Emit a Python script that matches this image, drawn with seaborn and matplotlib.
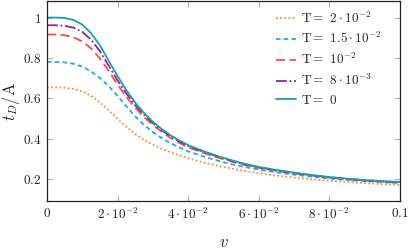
import pandas as pd
import matplotlib
matplotlib.use("Agg")
import matplotlib.pyplot as plt
import seaborn as sns

# values
v = [0, 0.0025, 0.005, 0.0075, 0.01, 0.0125, 0.015, 0.0175, 0.02, 0.0225,
     0.025, 0.0275, 0.03, 0.0325, 0.035, 0.0375, 0.04, 0.045, 0.05, 0.055,
     0.06, 0.065, 0.07, 0.075, 0.08, 0.085, 0.09, 0.095, 0.1]

t_2e2 = [0.654, 0.654, 0.652, 0.646, 0.634, 0.612, 0.58, 0.54, 0.498, 0.458,
         0.423, 0.394, 0.37, 0.35, 0.333, 0.317, 0.303, 0.279, 0.26, 0.243,
         0.229, 0.217, 0.207, 0.199, 0.192, 0.186, 0.18, 0.175, 0.171]
t_15e3 = [0.78, 0.78, 0.778, 0.771, 0.757, 0.733, 0.7, 0.66, 0.612, 0.56,
          0.51, 0.468, 0.433, 0.403, 0.378, 0.356, 0.337, 0.308, 0.283, 0.263,
          0.247, 0.233, 0.222, 0.212, 0.203, 0.196, 0.19, 0.185, 0.18]
t_1e2 = [0.916, 0.916, 0.912, 0.902, 0.882, 0.847, 0.797, 0.735, 0.668, 0.606,
         0.553, 0.507, 0.468, 0.434, 0.404, 0.379, 0.357, 0.325, 0.298, 0.274,
         0.255, 0.24, 0.228, 0.217, 0.207, 0.199, 0.192, 0.187, 0.182]
t_8e3 = [0.962, 0.962, 0.959, 0.95, 0.929, 0.89, 0.833, 0.761, 0.689, 0.623,
         0.566, 0.518, 0.477, 0.442, 0.411, 0.386, 0.363, 0.33, 0.302, 0.277,
         0.258, 0.243, 0.23, 0.219, 0.209, 0.201, 0.194, 0.189, 0.184]
t_0 = [1.0, 1.0, 0.998, 0.988, 0.965, 0.922, 0.862, 0.785, 0.71, 0.64,
       0.578, 0.527, 0.484, 0.448, 0.417, 0.391, 0.368, 0.334, 0.305, 0.28,
       0.26, 0.245, 0.232, 0.22, 0.21, 0.202, 0.195, 0.19, 0.185]

labels = [r'T$=$ $2\cdot10^{-2}$', r'T$=$ $1.5\cdot10^{-2}$', r'T$=$ $10^{-2}$',
          r'T$=$ $8\cdot10^{-3}$', r'T$=$ $0$']
series = [t_2e2, t_15e3, t_1e2, t_8e3, t_0]

xticks = [0, 0.02, 0.04, 0.06, 0.08, 0.1]
xticklabels = [r'$0$', r'$2\cdot10^{-2}$', r'$4\cdot10^{-2}$', r'$6\cdot10^{-2}$',
               r'$8\cdot10^{-2}$', r'$0.1$']
yticks = [0.2, 0.4, 0.6, 0.8, 1.0]
yticklabels = [r'$0.2$', r'$0.4$', r'$0.6$', r'$0.8$', r'$1$']

colors = ['#ff8a3d', '#1fa9e8', '#ff4a4a', '#9a1f9e', '#17a3a3']
styles = [(0, (1, 1.3)), (0, (2.5, 1.8)), (0, (5, 2.5)), (0, (6, 1.5, 1, 1.5)), '-']

sns.set_style('ticks')
plt.rcParams['font.family'] = 'serif'
plt.rcParams['font.serif'] = ['cmr10', 'DejaVu Serif']
plt.rcParams['mathtext.fontset'] = 'cm'
plt.rcParams['axes.unicode_minus'] = False

fig = plt.figure(figsize=(4.15, 2.52), dpi=100)
ax = fig.add_axes([47 / 415, 1 - 201 / 252, 353 / 415, 200 / 252])

for vals, lab, c, ls in zip(series, labels, colors, styles):
    df = pd.DataFrame({'v': v, 't': vals})
    sns.lineplot(data=df, x='v', y='t', ax=ax, color=c, linestyle=ls,
                 linewidth=1.3, label=lab)

ax.set_xlim(0, 0.1)
ax.set_ylim(0.0914, 1.082)
ax.set_xticks(xticks)
ax.set_xticklabels(xticklabels)
ax.set_yticks(yticks)
ax.set_yticklabels(yticklabels)
ax.tick_params(direction='in', length=4, width=0.8, color='#b5b5b5',
               labelsize=9.5, top=True, right=True, pad=4, labelcolor='#222222')
for s in ax.spines.values():
    s.set_linewidth(0.9)
    s.set_color('#222222')

ax.set_xlabel(r'$v$', fontsize=12, labelpad=9)
ax.set_ylabel(r'$t_D/\mathrm{A}$', fontsize=12, labelpad=1)

leg = ax.legend(loc='upper right', bbox_to_anchor=(0.975, 1.0), frameon=False,
                fontsize=9.5, handlelength=1.5, handletextpad=0.4,
                labelspacing=0.42, borderaxespad=0.3)

fig.savefig('out.png', dpi=100)
